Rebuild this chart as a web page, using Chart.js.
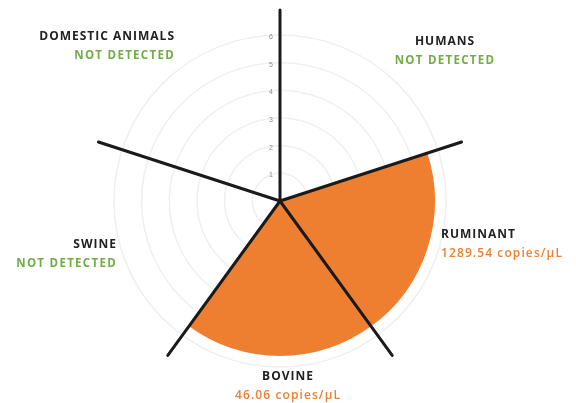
<!DOCTYPE html>
<html>
<head>
<meta charset="utf-8">
<script src="https://cdn.jsdelivr.net/npm/chart.js@4.4.1/dist/chart.umd.min.js"></script>
<style>
html,body{margin:0;padding:0;background:#fff;}
#wrap{width:576px;height:403px;position:relative;}
</style>
</head>
<body>
<div id="wrap"><canvas id="c" width="576" height="403"></canvas></div>
<script>
const categories = ["HUMANS", "RUMINANT", "BOVINE", "SWINE", "DOMESTIC ANIMALS"];
const values = [0, 5.6, 5.6, 0, 0];
const resultText = ["NOT DETECTED", "1289.54 copies/µL", "46.06 copies/µL", "NOT DETECTED", "NOT DETECTED"];
const detected = [false, true, true, false, false];
const tickValues = [1, 2, 3, 4, 5, 6];
const spokeValue = 6.9;

const ORANGE = '#EE7F30';
const GREEN = '#70AD47';

// label anchor offsets relative to chart center (layout only)
const labelLayout = [
  {dx: 165, dy: -159, align: 'center'},
  {dx: 161, dy: 34, align: 'left'},
  {dx: 8, dy: 176, align: 'center'},
  {dx: -163, dy: 44, align: 'right'},
  {dx: -105, dy: -164, align: 'right'}
];

const overlay = {
  id: 'overlay',
  afterDatasetsDraw(chart) {
    const s = chart.scales.r;
    const ctx = chart.ctx;
    ctx.save();
    ctx.strokeStyle = '#1a1a1a';
    ctx.lineWidth = 3;
    ctx.lineCap = 'round';
    for (let i = 0; i < categories.length; i++) {
      const p = s.getPointPositionForValue(i, spokeValue);
      ctx.beginPath();
      ctx.moveTo(s.xCenter, s.yCenter);
      ctx.lineTo(p.x, p.y);
      ctx.stroke();
    }
    // tick labels
    ctx.fillStyle = '#8a8a8a';
    ctx.font = '7px "Liberation Sans", sans-serif';
    ctx.textAlign = 'center';
    ctx.textBaseline = 'middle';
    tickValues.forEach(v => {
      const d = s.getDistanceFromCenterForValue(v);
      ctx.fillText(String(v), s.xCenter - 9, s.yCenter - d + 2);
    });
    // category labels
    ctx.textBaseline = 'middle';
    categories.forEach((name, i) => {
      const L = labelLayout[i];
      const x = s.xCenter + L.dx, y = s.yCenter + L.dy;
      ctx.font = 'bold 12px "Open Sans", Lato, sans-serif';
      ctx.letterSpacing = '1px';
      ctx.fillStyle = '#222';
      ctx.textAlign = L.align;
      ctx.fillText(name, x, y);
      ctx.font = (detected[i] ? '600 12px' : 'bold 11.5px') + ' "Open Sans", Lato, sans-serif';
      ctx.letterSpacing = detected[i] ? '1.1px' : '1.3px';
      ctx.fillStyle = detected[i] ? ORANGE : GREEN;
      ctx.fillText(resultText[i], x, y + 19);
    });
    ctx.restore();
  }
};

new Chart(document.getElementById('c'), {
  type: 'polarArea',
  data: {
    labels: categories,
    datasets: [{
      data: values,
      backgroundColor: ORANGE,
      borderWidth: 0
    }]
  },
  options: {
    responsive: false,
    animation: false,
    layout: {padding: {top: 35, bottom: 36, left: 0, right: 16}},
    plugins: {legend: {display: false}, tooltip: {enabled: false}},
    scales: {
      r: {
        min: 0,
        max: 6,
        startAngle: 0,
        ticks: {display: false, stepSize: 1},
        grid: {color: '#efefef', lineWidth: 1.5},
        angleLines: {display: false},
        pointLabels: {display: false}
      }
    }
  },
  plugins: [overlay]
});
</script>
</body>
</html>
